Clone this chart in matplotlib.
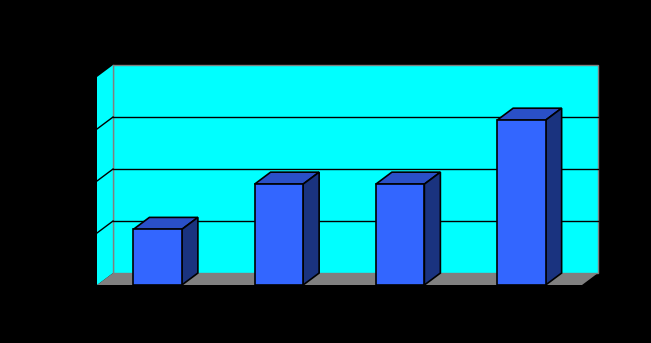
import matplotlib
matplotlib.use("Agg")
import matplotlib.pyplot as plt
from matplotlib.patches import Polygon

# data (no labels are visible in the reference)
categories = [0, 1, 2, 3]
values = [1.07, 1.94, 1.94, 3.17]
y_ticks = [1, 2, 3]

# fake 3D depth, in data units
dx = 0.132
dy = 0.23
w = 0.4
ymax = 4

cyan = '#00FFFF'
grey = '#808080'
front_col = '#3366FF'
top_col = '#2A50C8'
side_col = '#1A337F'

fig = plt.figure(figsize=(6.51, 3.43), dpi=100, facecolor='black')
ax = fig.add_axes([97/651, 58/343, 485/651, 208/343])
ax.set_xlim(-0.5, 3.5)
ax.set_ylim(0, ymax)
ax.axis('off')

x0, x1 = -0.5, 3.5

# back wall
ax.add_patch(Polygon([(x0+dx, dy), (x1+dx, dy), (x1+dx, ymax+dy), (x0+dx, ymax+dy)],
                     closed=True, fc=cyan, ec=grey, lw=1, clip_on=False, zorder=1))
# left wall
ax.add_patch(Polygon([(x0, 0), (x0+dx, dy), (x0+dx, ymax+dy), (x0, ymax)],
                     closed=True, fc=cyan, ec='none', clip_on=False, zorder=1))
ax.plot([x0+dx, x0+dx], [dy, ymax+dy], color=grey, lw=1, clip_on=False, zorder=2)
# floor
ax.add_patch(Polygon([(x0, 0), (x1, 0), (x1+dx, dy), (x0+dx, dy)],
                     closed=True, fc=grey, ec='none', clip_on=False, zorder=2))

# gridlines
for t in y_ticks:
    ax.plot([x0+dx, x1+dx], [t+dy, t+dy], color='black', lw=1, clip_on=False, zorder=2)
    ax.plot([x0, x0+dx], [t, t+dy], color='black', lw=1, clip_on=False, zorder=2)

# bars
ax.bar(categories, values, width=w, color=front_col, edgecolor='black', lw=1.2, zorder=4)
for c, v in zip(categories, values):
    l, r = c - w/2, c + w/2
    ax.add_patch(Polygon([(l, v), (r, v), (r+dx, v+dy), (l+dx, v+dy)],
                         closed=True, fc=top_col, ec='black', lw=1.2, clip_on=False, zorder=3))
    ax.add_patch(Polygon([(r, 0), (r+dx, dy), (r+dx, v+dy), (r, v)],
                         closed=True, fc=side_col, ec='black', lw=1.2, clip_on=False, zorder=3))

fig.savefig('out.png', dpi=100, facecolor='black')
